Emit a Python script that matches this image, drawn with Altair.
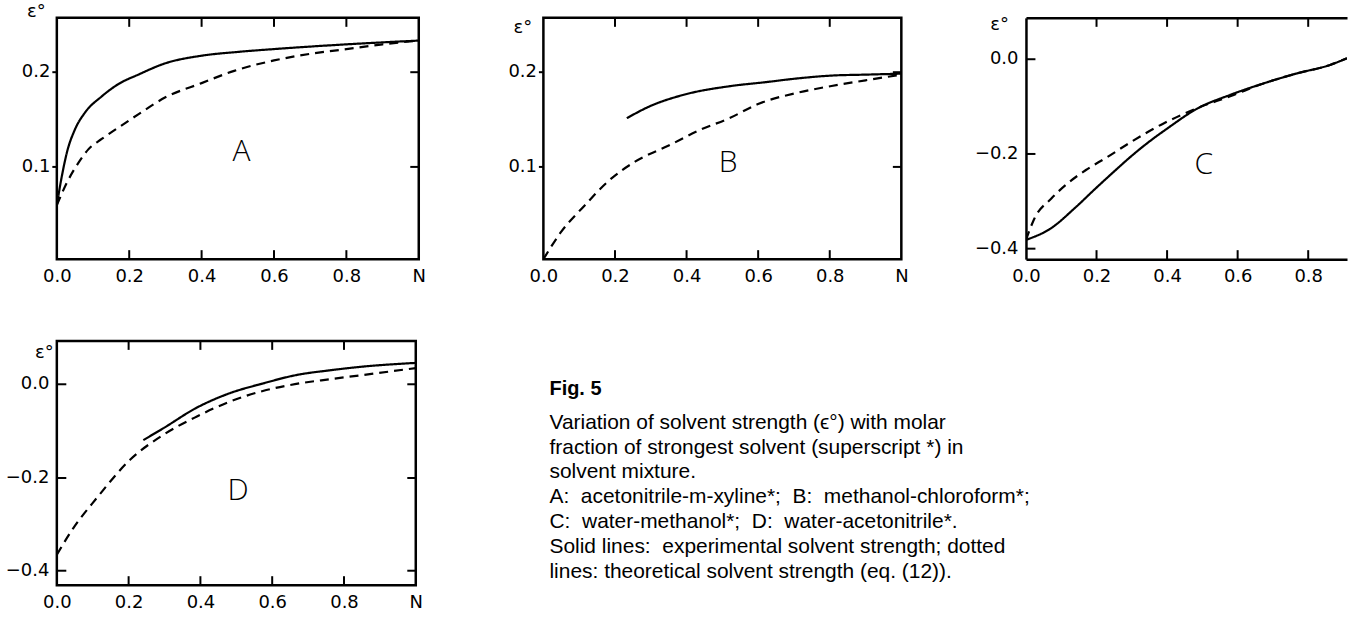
import altair as alt
import pandas as pd

# ---------------- data ----------------
# Panel A: acetonitrile - m-xylene*
A_exp_x = [0.0, 0.014, 0.028, 0.05, 0.078, 0.124, 0.17, 0.225, 0.3, 0.4, 0.5, 0.6, 0.8, 1.0]
A_exp_y = [0.059, 0.090, 0.115, 0.139, 0.157, 0.174, 0.187, 0.197, 0.209, 0.217, 0.221, 0.224, 0.229, 0.233]
A_theo_x = [0.0, 0.028, 0.06, 0.087, 0.124, 0.17, 0.225, 0.3, 0.4, 0.49, 0.6, 0.7, 0.8, 0.9, 1.0]
A_theo_y = [0.059, 0.083, 0.104, 0.118, 0.129, 0.141, 0.155, 0.173, 0.188, 0.201, 0.212, 0.219, 0.224, 0.229, 0.233]

# Panel B: methanol - chloroform*
B_exp_x = [0.233, 0.3, 0.395, 0.525, 0.62, 0.71, 0.805, 0.9, 1.0]
B_exp_y = [0.151, 0.164, 0.176, 0.185, 0.189, 0.193, 0.196, 0.197, 0.198]
B_theo_x = [0.0, 0.05, 0.116, 0.18, 0.256, 0.35, 0.44, 0.52, 0.6, 0.712, 0.805, 0.9, 1.0]
B_theo_y = [0.002, 0.031, 0.059, 0.084, 0.105, 0.122, 0.139, 0.151, 0.166, 0.178, 0.185, 0.191, 0.197]

# Panel C: water - methanol*
C_exp_x = [0.0, 0.07, 0.14, 0.2, 0.25, 0.3, 0.35, 0.4, 0.485, 0.579, 0.673, 0.767, 0.862, 0.91]
C_exp_y = [-0.382, -0.358, -0.314, -0.272, -0.238, -0.205, -0.175, -0.148, -0.106, -0.077, -0.053, -0.032, -0.014, 0.0]
C_theo_x = [0.0, 0.024, 0.072, 0.12, 0.17, 0.23, 0.3, 0.39, 0.485, 0.579, 0.673, 0.767, 0.862, 0.91]
C_theo_y = [-0.382, -0.337, -0.295, -0.262, -0.235, -0.208, -0.175, -0.137, -0.105, -0.08, -0.053, -0.032, -0.014, 0.0]

# Panel D: water - acetonitrile*
D_exp_x = [0.241, 0.296, 0.389, 0.481, 0.574, 0.667, 0.759, 0.852, 1.0]
D_exp_y = [-0.121, -0.096, -0.052, -0.021, 0.0, 0.018, 0.028, 0.036, 0.044]
D_theo_x = [0.0, 0.046, 0.111, 0.204, 0.296, 0.389, 0.481, 0.574, 0.667, 0.759, 0.852, 1.0]
D_theo_y = [-0.366, -0.309, -0.245, -0.163, -0.110, -0.071, -0.039, -0.016, -0.001, 0.009, 0.018, 0.033]

x_ticks_full = [0.0, 0.2, 0.4, 0.6, 0.8, 1.0]
x_ticks_cut = [0.0, 0.2, 0.4, 0.6, 0.8]
x_inner_ticks = [0.2, 0.4, 0.6, 0.8]
y_ticks_pos = [0.1, 0.2]
y_ticks_neg = [-0.4, -0.2, 0.0]

panel_letters = ["A", "B", "C", "D"]
letter_x = [0.51, 0.516, 0.504, 0.505]
letter_y = [0.115, 0.104, -0.225, -0.23]

NB = "\u00a0"
caption_lines = [
    "Fig. 5",
    "Variation of solvent strength (\u03f5\u00b0) with molar",
    "fraction of strongest solvent (superscript *) in",
    "solvent mixture.",
    f"A:{NB} acetonitrile-m-xyline*;{NB} B:{NB} methanol-chloroform*;",
    f"C:{NB} water-methanol*;{NB} D:{NB} water-acetonitrile*.",
    f"Solid lines:{NB} experimental solvent strength; dotted",
    "lines: theoretical solvent strength (eq. (12)).",
]
caption_rows = [0.64, 2, 3, 4, 5, 6, 7, 8]
caption_bold = [True, False, False, False, False, False, False, False]

AX_FONT = "DejaVu Sans"
AX_SIZE = 18
FRAME_W = 2.5
TICK_PX = 9


def make_df(ex, ey, tx, ty):
    rows = [{"N": x, "eps": y, "kind": "experimental"} for x, y in zip(ex, ey)]
    rows += [{"N": x, "eps": y, "kind": "theoretical"} for x, y in zip(tx, ty)]
    return pd.DataFrame(rows)


def tick_axis(orient, offset, values, ticks=True, domain=False):
    return alt.Axis(orient=orient, offset=offset, values=values, labels=False,
                    ticks=ticks, tickSize=TICK_PX, tickWidth=2, tickColor="black",
                    domain=domain, domainWidth=FRAME_W, domainColor="black",
                    grid=False, title=None)


def panel(df, idx, xdom, ydom, W, H, xvals, yvals, tx, ty,
          left_inward, right_side, frame_by_axes):
    xs = alt.Scale(domain=xdom, nice=False, zero=False)
    ys = alt.Scale(domain=ydom, nice=False, zero=False)
    label_expr = "datum.value > 0.99 ? 'N' : format(datum.value, '.1f')"
    x_main = alt.Axis(orient="bottom", values=xvals, labelExpr=label_expr,
                      ticks=False, labelPadding=8, labelFlush=False,
                      labelFont=AX_FONT, labelFontSize=AX_SIZE, labelColor="black",
                      domain=frame_by_axes, domainWidth=FRAME_W, domainColor="black",
                      grid=False, title=None)
    y_main = alt.Axis(orient="left", values=yvals, format=".1f",
                      ticks=not left_inward, tickSize=5, tickWidth=2, tickColor="black",
                      labelPadding=8 if left_inward else 2,
                      labelFont=AX_FONT, labelFontSize=AX_SIZE, labelColor="black",
                      domain=frame_by_axes, domainWidth=FRAME_W, domainColor="black",
                      grid=False, title="\u03b5\u00b0", titleAngle=0, titleX=tx, titleY=ty,
                      titleAlign="center", titleBaseline="alphabetic",
                      titleFont=AX_FONT, titleFontSize=AX_SIZE, titleFontWeight="normal",
                      titleColor="black")
    lines = alt.Chart(df).mark_line(color="black", strokeWidth=2.2, interpolate="monotone",
                                    clip=True).encode(
        x=alt.X("N:Q", scale=xs, axis=x_main),
        y=alt.Y("eps:Q", scale=ys, axis=y_main),
        strokeDash=alt.StrokeDash("kind:N", scale=alt.Scale(
            domain=["experimental", "theoretical"], range=[[1, 0], [9, 6]]), legend=None),
    )
    layers = [lines]
    # inward tick marks on the top and bottom borders, drawn as short rules at the tick values
    tvals = [v for v in x_inner_ticks if v < xdom[1]]
    dy = TICK_PX / H * (ydom[1] - ydom[0])
    tdf = pd.DataFrame({
        "N": tvals * 2,
        "y0": [ydom[1]] * len(tvals) + [ydom[0]] * len(tvals),
        "y1": [ydom[1] - dy] * len(tvals) + [ydom[0] + dy] * len(tvals),
    })
    layers.append(alt.Chart(tdf).mark_rule(strokeWidth=2, color="black").encode(
        x=alt.X("N:Q", scale=xs, axis=None),
        y=alt.Y("y0:Q", scale=ys, axis=None),
        y2="y1:Q"))
    if frame_by_axes:
        # top border line
        layers.append(alt.Chart(df).mark_point(opacity=0).encode(
            x=alt.X("N:Q", scale=xs, axis=tick_axis("bottom", -H, xvals, ticks=False, domain=True)),
            y=alt.Y("eps:Q", scale=ys, axis=None)))
    if right_side:
        layers.append(alt.Chart(df).mark_point(opacity=0).encode(
            x=alt.X("N:Q", scale=xs, axis=None),
            y=alt.Y("eps:Q", scale=ys, axis=tick_axis("left", -W, yvals))))
    if left_inward:
        layers.append(alt.Chart(df).mark_point(opacity=0).encode(
            x=alt.X("N:Q", scale=xs, axis=None),
            y=alt.Y("eps:Q", scale=ys, axis=tick_axis("right", -W, yvals))))
    ldf = pd.DataFrame({"N": [letter_x[idx]], "eps": [letter_y[idx]],
                        "label": [panel_letters[idx]]})
    layers.append(alt.Chart(ldf).mark_text(font="Open Sans", fontSize=30, fontWeight=300,
                                           color="black").encode(
        x=alt.X("N:Q", scale=xs, axis=None),
        y=alt.Y("eps:Q", scale=ys, axis=None),
        text="label:N"))
    stroke = "transparent" if frame_by_axes else "black"
    return alt.layer(*layers).resolve_axis(x="independent", y="independent").properties(
        width=W, height=H, view=alt.ViewBackground(stroke=stroke, strokeWidth=FRAME_W))


dfA = make_df(A_exp_x, A_exp_y, A_theo_x, A_theo_y)
dfB = make_df(B_exp_x, B_exp_y, B_theo_x, B_theo_y)
dfC = make_df(C_exp_x, C_exp_y, C_theo_x, C_theo_y)
dfD = make_df(D_exp_x, D_exp_y, D_theo_x, D_theo_y)

pA = panel(dfA, 0, [0, 1], [0.002, 0.257], 363, 242, x_ticks_full, y_ticks_pos,
           -21, -1, False, True, False)
pB = panel(dfB, 1, [0, 1], [0.002, 0.257], 359, 242, x_ticks_full, y_ticks_pos,
           -21, 15, False, True, False)
pC = panel(dfC, 2, [0, 0.91], [-0.4225, 0.085], 322, 242, x_ticks_cut, y_ticks_neg,
           -27, 12, True, False, True)
pD = panel(dfD, 3, [0, 1], [-0.431, 0.091], 360, 245, x_ticks_full, y_ticks_neg,
           -13, 17, True, True, False)

cap_df = pd.DataFrame({"text": caption_lines, "line": caption_rows,
                       "bold": caption_bold, "col": [0.0] * len(caption_lines)})
cx = alt.Scale(domain=[-0.017, 0.983], nice=False, zero=False)
cy = alt.Scale(domain=[-1.28, 8.52], nice=False, zero=False, reverse=True)
cap_bold = alt.Chart(cap_df).transform_filter("datum.bold").mark_text(
    align="left", baseline="middle", font="Liberation Sans", fontSize=20,
    fontWeight="bold", color="black").encode(
    x=alt.X("col:Q", scale=cx, axis=None), y=alt.Y("line:Q", scale=cy, axis=None),
    text="text:N")
cap_body = alt.Chart(cap_df).transform_filter("!datum.bold").mark_text(
    align="left", baseline="middle", font="Liberation Sans", fontSize=21,
    color="black").encode(
    x=alt.X("col:Q", scale=cx, axis=None), y=alt.Y("line:Q", scale=cy, axis=None),
    text="text:N")
caption = alt.layer(cap_bold, cap_body).properties(
    width=359, height=245, view=alt.ViewBackground(stroke="transparent"))

chart = alt.concat(pA, pB, pC, pD, caption, columns=3,
                   spacing={"row": 82, "column": 125}, bounds="flush").properties(
    padding={"left": 4, "top": 0, "right": 0, "bottom": 0},
    background="white",
)

chart.save("out.html", embed_options={"renderer": "svg", "actions": False})
